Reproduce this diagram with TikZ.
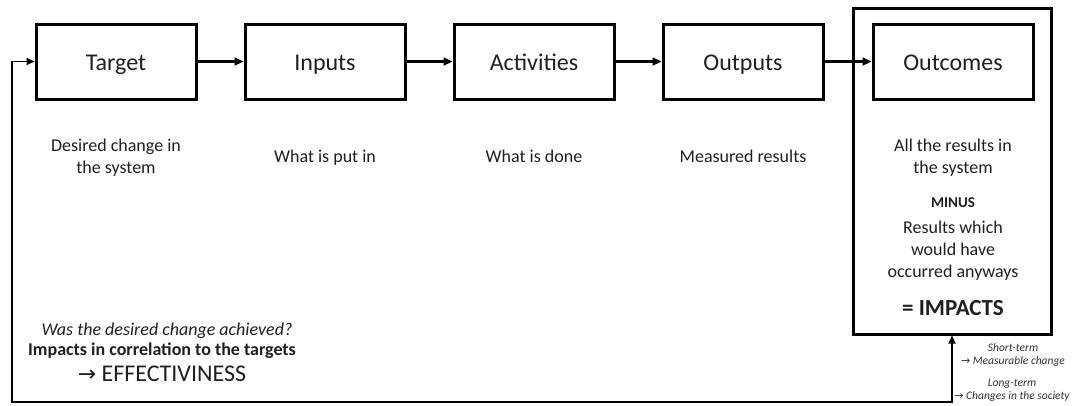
\documentclass[tikz,border=0pt]{standalone}
\usepackage{fontspec}
\setmainfont{Carlito}
\newfontfamily\symfont{DejaVu Sans}
\usetikzlibrary{arrows.meta}
\begin{document}
\begin{tikzpicture}[x=1pt,y=-1pt,
  every node/.append style={text=black!88},
  stagebox/.style={draw, line width=3pt, minimum width=160pt, minimum height=75pt, inner sep=0pt, text height=20pt, text depth=3pt, font=\fontsize{24}{28}\selectfont},
  outerbox/.style={draw, line width=3pt, minimum width=198pt, minimum height=326pt, inner sep=0pt},
  desc/.style={align=center, anchor=base, inner sep=0pt, font=\fontsize{18}{22}\selectfont},
  flow/.style={line width=2.2pt, -{Triangle[length=9pt,width=8pt]}},
  fb/.style={line width=1.6pt, {Triangle[length=8pt,width=7pt]}-{Triangle[length=8pt,width=7pt]}},
  small/.style={align=center, anchor=base, inner sep=0pt, text=black!80, font=\fontsize{11.5}{12.5}\selectfont\itshape}
]
\useasboundingbox (0,0) rectangle (1074,405);
\node[outerbox] (outer) at (952,171) {};
\node[stagebox] (target) at (116,61.5) {Target};
\node[stagebox] (inputs) at (325,61.5) {Inputs};
\node[stagebox] (activities) at (534,61.5) {Activities};
\node[stagebox] (outputs) at (743,61.5) {Outputs};
\node[stagebox] (outcomes) at (953,61.5) {Outcomes};
\draw[flow] (target) -- (inputs);
\draw[flow] (inputs) -- (activities);
\draw[flow] (activities) -- (outputs);
\draw[flow] (outputs) -- (outcomes);

\node[desc] (d1) at (116,173) {Desired change in\\the system};
\node[desc] (d2) at (325,162) {What is put in};
\node[desc] (d3) at (534,162) {What is done};
\node[desc] (d4) at (743,162) {Measured results};
\node[desc] (d5) at (953,173) {All the results in\\the system};
\node[desc, font=\fontsize{15}{18}\selectfont\bfseries] (minus) at (953,207) {MINUS};
\node[desc] (d6) at (953,277) {Results which\\would have\\occurred anyways};
\node[desc, font=\fontsize{23}{27}\selectfont\bfseries] (impacts) at (953,315) {= IMPACTS};

\node[desc, font=\fontsize{18}{22}\selectfont\itshape] (q) at (167,335) {Was the desired change achieved?};
\node[desc, font=\fontsize{18}{22}\selectfont\bfseries] (corr) at (162,355) {Impacts in correlation to the targets};
\node[desc, font=\fontsize{24}{28}\selectfont] (eff) at (162,381) {{\symfont\fontsize{22}{26}\selectfont →} EFFECTIVINESS};

\coordinate (c1) at (12,402);
\draw[fb] (target.west) -| (c1) -| (outer.south);

\node[small] (st) at (1013,364) {Short-term\\{\symfont\fontsize{11}{12.5}\selectfont →} Measurable change};
\node[small] (lt) at (1012,399) {Long-term\\{\symfont\fontsize{11}{12.5}\selectfont →} Changes in the society};
\end{tikzpicture}
\end{document}
